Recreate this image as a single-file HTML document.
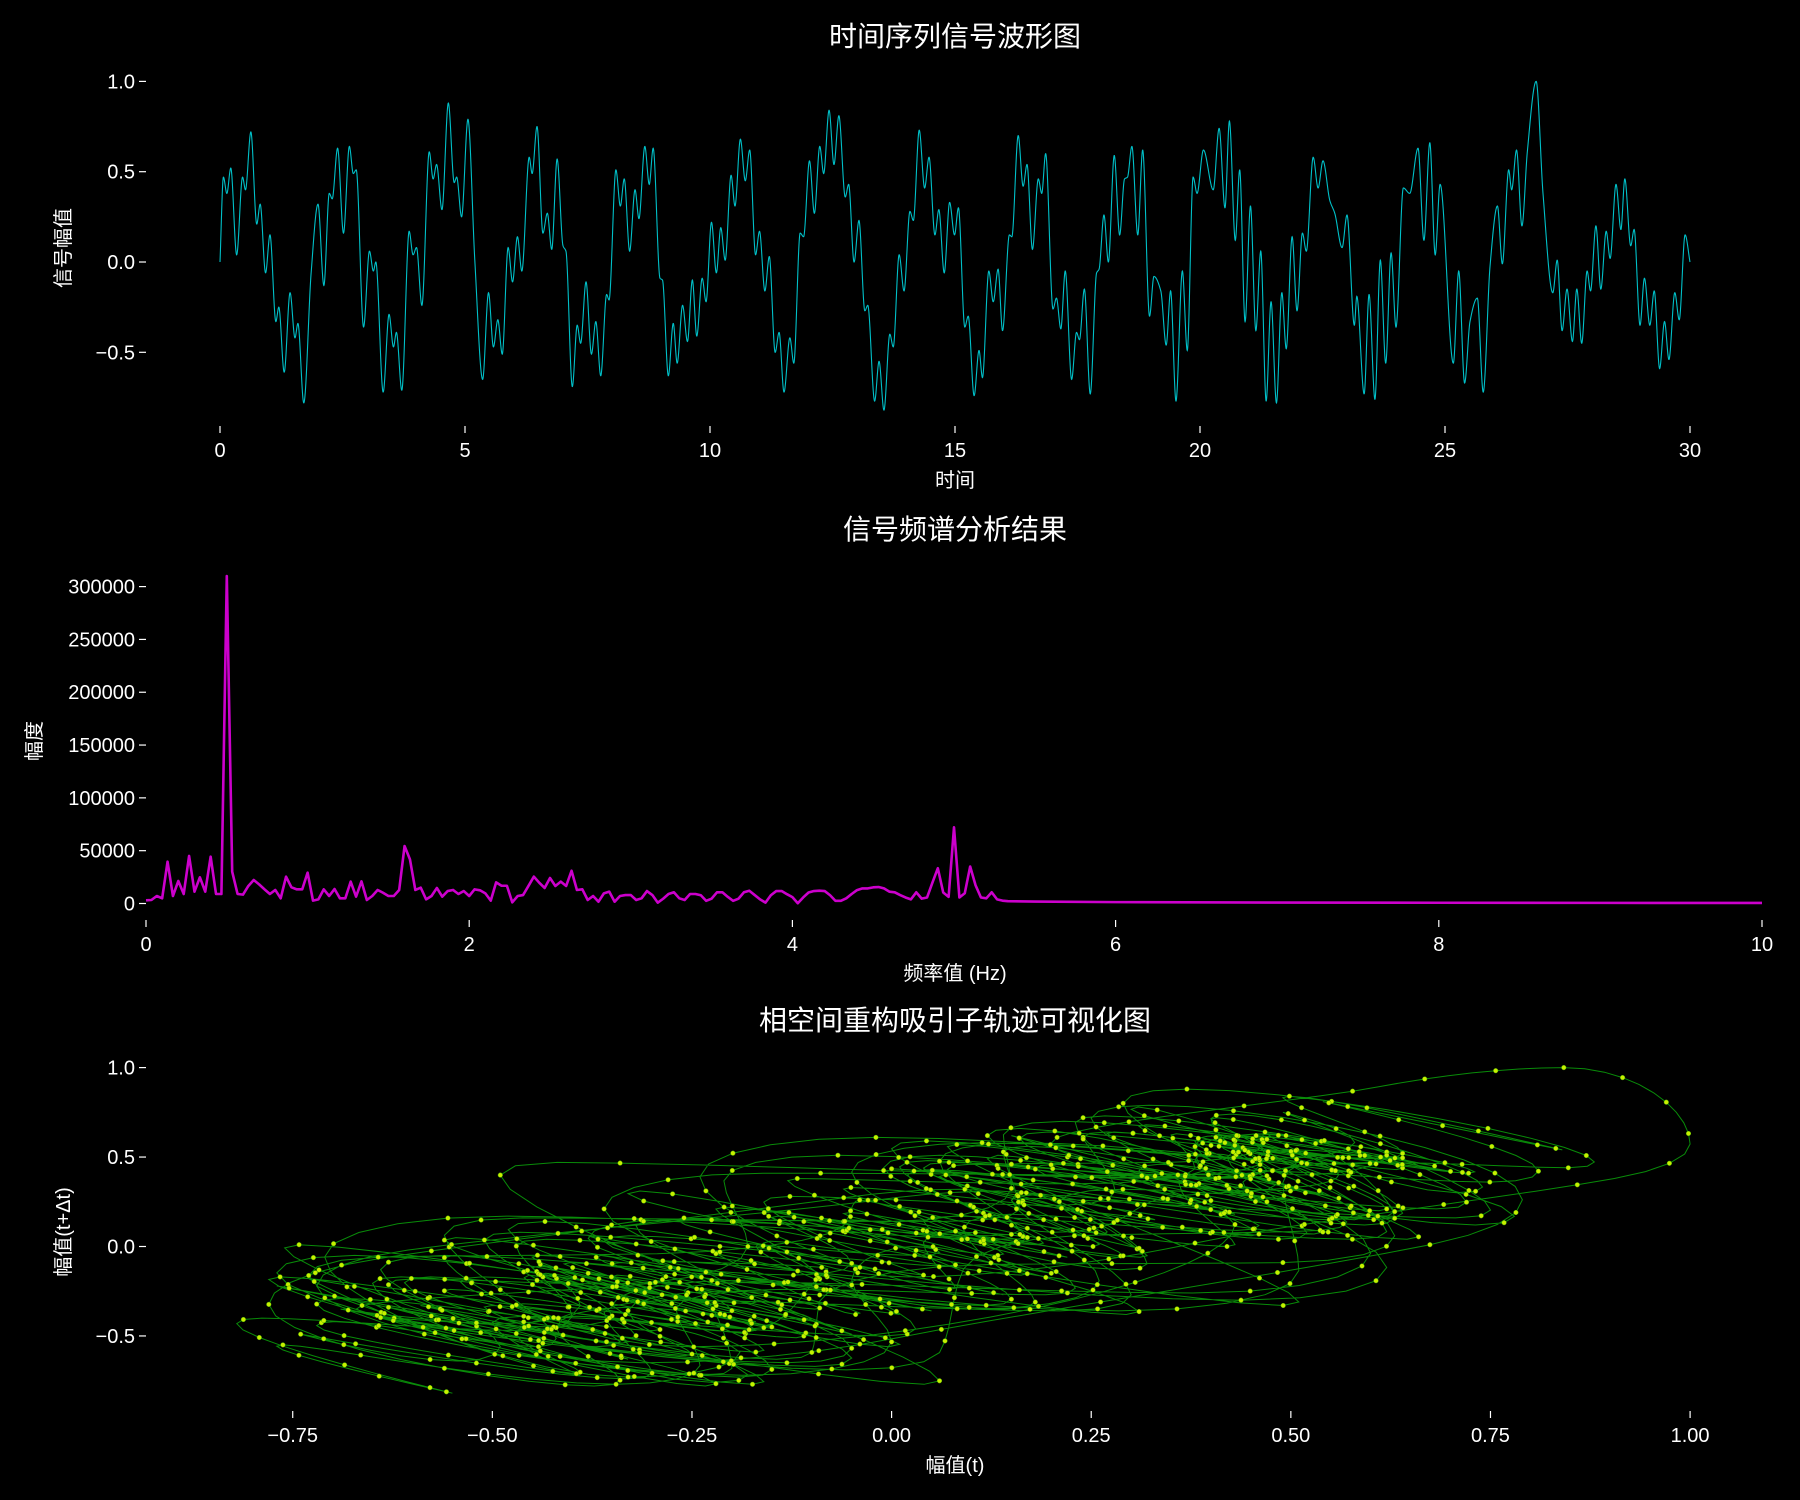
<!DOCTYPE html>
<html><head><meta charset="utf-8"><style>
html,body{margin:0;padding:0;background:#000;}
svg{display:block;}
text{font-family:"Liberation Sans","Noto Sans CJK SC",sans-serif;fill:#fff;}
</style></head><body>
<svg id="fig" width="1800" height="1500" viewBox="0 0 1800 1500">
<rect x="0" y="0" width="1800" height="1500" fill="#000"/>
<text x="955" y="46" font-size="28" text-anchor="middle">时间序列信号波形图</text>
<text x="955" y="539" font-size="28" text-anchor="middle">信号频谱分析结果</text>
<text x="955" y="1030" font-size="28" text-anchor="middle">相空间重构吸引子轨迹可视化图</text>
<text x="955" y="487" font-size="20" text-anchor="middle">时间</text>
<text x="955" y="980" font-size="20" text-anchor="middle">频率值 (Hz)</text>
<text x="955" y="1472" font-size="20" text-anchor="middle">幅值(t)</text>
<text transform="translate(70,248) rotate(-90)" font-size="20" text-anchor="middle">信号幅值</text>
<text transform="translate(41,741) rotate(-90)" font-size="20" text-anchor="middle">幅度</text>
<text transform="translate(70,1232) rotate(-90)" font-size="20" text-anchor="middle">幅值(t+Δt)</text>
<g id="g1"></g>
<g id="g2"></g>
<g id="g3"></g>
</svg>
<script>
const sigT=[0.00,0.07,0.14,0.22,0.34,0.46,0.52,0.63,0.75,0.82,0.93,1.02,1.14,1.20,1.31,1.43,1.53,1.59,1.71,1.86,2.00,2.12,2.23,2.29,2.40,2.52,2.64,2.72,2.78,2.93,3.05,3.13,3.18,3.33,3.45,3.54,3.60,3.71,3.86,3.94,4.01,4.12,4.27,4.35,4.42,4.53,4.66,4.78,4.83,4.93,5.06,5.20,5.36,5.48,5.58,5.67,5.76,5.88,5.97,6.07,6.16,6.31,6.37,6.47,6.59,6.68,6.77,6.88,7.00,7.06,7.19,7.29,7.36,
7.47,7.58,7.67,7.77,7.89,7.94,8.08,8.17,8.25,8.36,8.47,8.55,8.67,8.76,8.84,8.98,9.03,9.15,9.25,9.33,9.44,9.54,9.64,9.73,9.84,9.92,10.03,10.13,10.22,10.31,10.43,10.51,10.62,10.72,10.81,10.93,11.01,11.12,11.21,11.33,11.41,11.51,11.63,11.71,11.84,11.91,12.03,12.13,12.24,12.32,12.43,12.53,12.63,12.76,12.83,12.94,13.04,13.16,13.22,13.36,13.45,13.55,13.67,13.74,13.86,13.96,14.08,14.15,14.27,14.38,14.47,14.59,14.67,14.78,14.89,14.99,15.07,
15.20,15.27,15.39,15.49,15.56,15.69,15.78,15.88,15.97,16.11,16.16,16.29,16.39,16.47,16.58,16.70,16.77,16.85,17.00,17.07,17.16,17.25,17.38,17.48,17.54,17.64,17.76,17.89,17.94,18.04,18.13,18.25,18.36,18.46,18.52,18.61,18.73,18.83,18.97,19.06,19.20,19.31,19.40,19.51,19.64,19.74,19.86,19.94,20.07,20.27,20.39,20.51,20.60,20.72,20.81,20.92,21.03,21.14,21.24,21.35,21.45,21.56,21.67,21.76,21.88,21.98,22.09,22.17,22.31,22.41,22.51,
22.65,22.75,22.90,23.00,23.15,23.20,23.35,23.45,23.57,23.68,23.79,23.90,24.00,24.15,24.28,24.45,24.57,24.69,24.80,24.90,25.17,25.28,25.40,25.51,25.66,25.78,25.92,26.07,26.17,26.30,26.36,26.46,26.57,26.68,26.86,27.00,27.20,27.29,27.39,27.49,27.60,27.69,27.79,27.90,27.97,28.08,28.18,28.29,28.37,28.49,28.59,28.67,28.79,28.86,28.98,29.07,29.18,29.27,29.38,29.48,29.57,29.69,29.78,29.90,30.00];
const sigV=[0.00,0.47,0.38,0.52,0.04,0.47,0.40,0.72,0.21,0.32,-0.06,0.15,-0.33,-0.25,-0.61,-0.17,-0.42,-0.34,-0.78,-0.06,0.32,-0.13,0.38,0.35,0.63,0.16,0.64,0.49,0.51,-0.36,0.06,-0.05,0.00,-0.72,-0.29,-0.47,-0.39,-0.71,0.17,0.04,0.08,-0.24,0.61,0.46,0.54,0.29,0.88,0.44,0.47,0.25,0.79,0.01,-0.65,-0.17,-0.47,-0.32,-0.51,0.08,-0.11,0.14,-0.05,0.58,0.49,0.75,0.16,0.27,0.07,0.57,0.09,0.06,-0.69,-0.35,-0.45,
-0.11,-0.51,-0.33,-0.63,-0.18,-0.21,0.51,0.31,0.46,0.06,0.40,0.24,0.64,0.43,0.63,-0.09,-0.10,-0.63,-0.34,-0.56,-0.24,-0.44,-0.10,-0.41,-0.09,-0.22,0.22,-0.06,0.19,0.01,0.48,0.31,0.68,0.45,0.62,0.04,0.17,-0.16,0.03,-0.50,-0.39,-0.72,-0.42,-0.56,0.16,0.14,0.56,0.27,0.64,0.49,0.84,0.54,0.81,0.36,0.43,0.00,0.23,-0.27,-0.24,-0.77,-0.55,-0.82,-0.40,-0.47,0.04,-0.16,0.28,0.23,0.73,0.41,0.58,0.15,0.29,-0.06,0.33,0.15,0.30,
-0.36,-0.30,-0.74,-0.49,-0.64,-0.05,-0.22,-0.04,-0.38,0.15,0.14,0.70,0.42,0.54,0.07,0.46,0.38,0.60,-0.26,-0.20,-0.37,-0.05,-0.65,-0.39,-0.43,-0.15,-0.73,-0.06,-0.04,0.26,0.00,0.59,0.15,0.46,0.47,0.64,0.15,0.62,-0.30,-0.08,-0.16,-0.46,-0.16,-0.77,-0.05,-0.49,0.47,0.38,0.62,0.40,0.74,0.30,0.78,0.12,0.51,-0.33,0.31,-0.38,0.06,-0.77,-0.22,-0.78,-0.17,-0.48,0.14,-0.27,0.16,0.06,0.58,0.41,0.56,
0.34,0.27,0.08,0.26,-0.35,-0.19,-0.73,-0.18,-0.76,0.01,-0.56,0.05,-0.36,0.41,0.38,0.63,0.12,0.66,0.04,0.43,-0.56,-0.05,-0.67,-0.33,-0.20,-0.72,-0.02,0.31,-0.01,0.51,0.40,0.62,0.20,0.61,1.00,0.38,-0.17,0.01,-0.38,-0.15,-0.44,-0.15,-0.45,-0.05,-0.16,0.20,-0.15,0.17,0.02,0.43,0.18,0.46,0.09,0.18,-0.35,-0.09,-0.35,-0.16,-0.59,-0.33,-0.54,-0.17,-0.32,0.15,0.00];
const sigXTicks=[0,5,10,15,20,25,30];
const sigYTicks=[-0.5,0.0,0.5,1.0];
const sigYLabels=["\u22120.5","0.0","0.5","1.0"];

const specMags=[3000,3300,7100,4900,39600,7100,21300,9000,45000,11200,24800,11200,44300,9000,9000,310000,30100,9000,8400,16600,22200,18100,13400,9000,12800,4900,25400,15300,13400,13400,29200,2700,3900,13400,7100,13700,4900,4900,20700,6500,21000,3300,7100,12800,10200,7100,7100,12800,54400,41800,12800,15000,3900,7100,14700,6500,11800,12800,9000,11800,7100,13400,12500,9600,2700,20000,16800,16800,1100,7100,8000,16600,25400,19700,14700,24100,16600,20700,16600,31000,12800,13400,3300,7100,1700,9600,11200,1700,7100,8000,8000,3300,4900,11800,8000,800,4500,9000,10600,4900,3300,9000,9000,7800,2500,4600,10600,10600,6300,2500,4600,10600,12100,8000,3900,800,7800,11800,11800,8800,6000,200,5700,10400,11800,12100,11800,7800,2500,2500,4900,9000,12700,14300,14300,15300,15600,14300,11200,10600,8000,5700,3900,10600,4600,5700,19800,33400,10400,6300,72100,5700,9700,35000,17300,5700,4900,10600,3900,2700,2200];
const specTailF=[5.5,6,7,8,9,10];
const specTailM=[1800,1300,900,700,600,500];
const specXTicks=[0,2,4,6,8,10];
const specYTicks=[0,50000,100000,150000,200000,250000,300000];

const phaseLag=0.1;
const phaseXTicks=[-0.75,-0.5,-0.25,0,0.25,0.5,0.75,1.0];
const phaseXLabels=["\u22120.75","\u22120.50","\u22120.25","0.00","0.25","0.50","0.75","1.00"];
const phaseYTicks=[-0.5,0.0,0.5,1.0];
const phaseYLabels=["\u22120.5","0.0","0.5","1.0"];

const NS="http://www.w3.org/2000/svg";
function mk(tag,parent,attrs){const e=document.createElementNS(NS,tag);for(const k in attrs)e.setAttribute(k,attrs[k]);parent.appendChild(e);return e;}

const n=sigT.length;const dk=[],mk2=new Array(n).fill(0);
for(let i=0;i<n-1;i++)dk.push((sigV[i+1]-sigV[i])/(sigT[i+1]-sigT[i]));
for(let i=1;i<n-1;i++){ if(dk[i-1]*dk[i]<=0) mk2[i]=0; else { const w1=2*(sigT[i+1]-sigT[i])+(sigT[i]-sigT[i-1]), w2=(sigT[i+1]-sigT[i])+2*(sigT[i]-sigT[i-1]); mk2[i]=(w1+w2)/(w1/dk[i-1]+w2/dk[i]); } }
mk2[0]=dk[0];mk2[n-1]=dk[n-2];
function sig(t){ if(t<=sigT[0])return sigV[0]; if(t>=sigT[n-1])return sigV[n-1];
 let lo=0,hi=n-1; while(hi-lo>1){const m=(lo+hi)>>1; if(sigT[m]<=t)lo=m; else hi=m;}
 const h=sigT[hi]-sigT[lo], s=(t-sigT[lo])/h, s2=s*s, s3=s2*s;
 return (2*s3-3*s2+1)*sigV[lo]+(s3-2*s2+s)*h*mk2[lo]+(-2*s3+3*s2)*sigV[hi]+(s3-s2)*h*mk2[hi]; }

function axisTicks(g,name,xs,xl,xScale,yBottom,ys,yl,yScale,xLeft){
 xs.forEach((v,i)=>{const x=xScale(v);
  const tk=mk('line',g,{x1:x,y1:yBottom,x2:x,y2:yBottom+7,stroke:'#fff','stroke-width':1.2});
  
  
  const t=mk('text',g,{x:x,y:yBottom+31,'font-size':20,'text-anchor':'middle'});t.textContent=xl[i];
  
  });
 ys.forEach((v,i)=>{const y=yScale(v);
  const tk=mk('line',g,{x1:xLeft-7,y1:y,x2:xLeft,y2:y,stroke:'#fff','stroke-width':1.2});
  
  
  const t=mk('text',g,{x:xLeft-11,y:y+7,'font-size':20,'text-anchor':'end'});t.textContent=yl[i];
  
  });
}

(function(){const g=document.getElementById('g1');
 const X=t=>220+49*t, Y=v=>262-180.6*v;
 let d='';for(let t=0;t<=30.0001;t+=0.004){d+=(d?'L':'M')+X(t).toFixed(2)+','+Y(sig(t)).toFixed(2);}
 const p=mk('path',g,{d:d,fill:'none',stroke:'#00c0c8','stroke-width':1.1});
 
 
 axisTicks(g,'signal',sigXTicks,sigXTicks.map(String),X,426,sigYTicks,sigYLabels,Y,146);
})();

(function(){const g=document.getElementById('g2');
 const X=f=>146+161.6*f, Y=m=>903.5-m*316.9/300000;
 let d='';specMags.forEach((m,k)=>{d+=(d?'L':'M')+X(k/30).toFixed(2)+','+Y(m).toFixed(2);});
 specTailF.forEach((f,i)=>{d+='L'+X(f).toFixed(2)+','+Y(specTailM[i]).toFixed(2);});
 const p=mk('path',g,{d:d,fill:'none',stroke:'#cc00cc','stroke-width':2.6,'stroke-linejoin':'round'});
 
 
 axisTicks(g,'spectrum',specXTicks,specXTicks.map(String),X,920,specYTicks,specYTicks.map(String),Y,146);
})();

(function(){const g=document.getElementById('g3');
 const X=v=>891.6+798.5*v, Y=v=>1246.5-178.9*v;
 const dt=0.01;const pts=[];
 for(let t=0;t+phaseLag<=30.0001;t+=dt){pts.push([sig(t),sig(t+phaseLag)]);}
 let d='';pts.forEach(p=>{d+=(d?'L':'M')+X(p[0]).toFixed(1)+','+Y(p[1]).toFixed(1);});
 const path=mk('path',g,{d:d,fill:'none',stroke:'#0a9a0a','stroke-width':1,'stroke-opacity':0.9});
 
 
 const dg=mk('g',g,{});
 
 
 pts.forEach((p,i)=>{ if(i%3)return;
  const c=mk('circle',dg,{cx:X(p[0]).toFixed(1),cy:Y(p[1]).toFixed(1),r:2.3,fill:'#c8f000',stroke:'#4caf00','stroke-width':0.5});
  
  });
 axisTicks(g,'phase',phaseXTicks,phaseXLabels,X,1411,phaseYTicks,phaseYLabels,Y,146);
})();
</script>
</body></html>
